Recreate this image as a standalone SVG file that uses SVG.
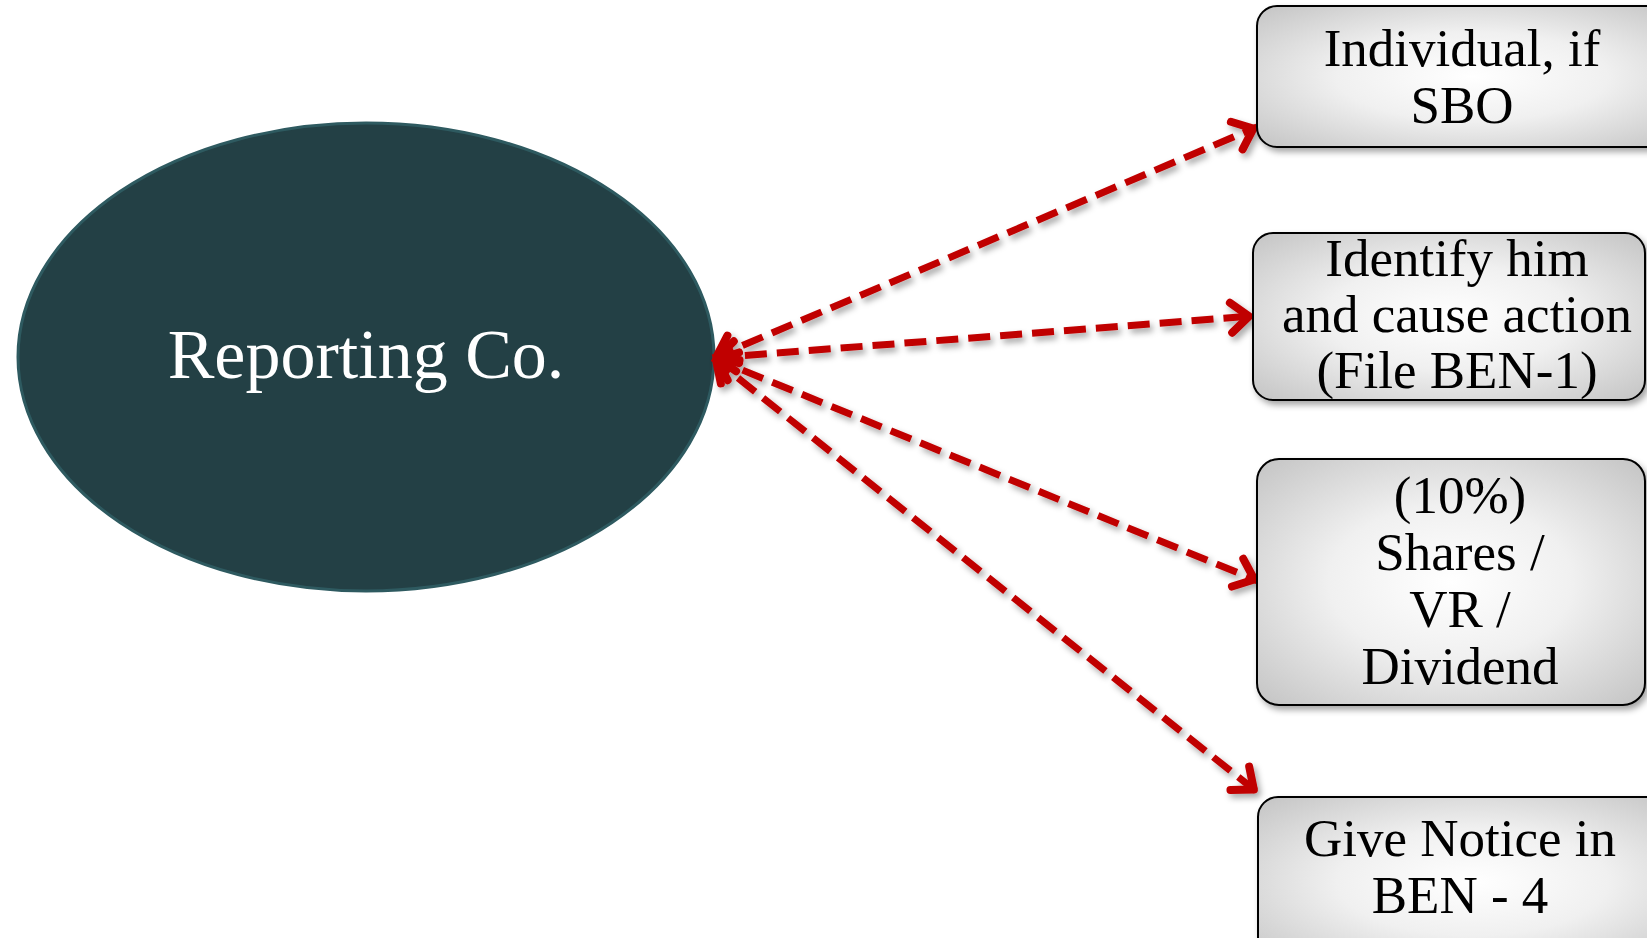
<svg xmlns="http://www.w3.org/2000/svg" width="1647" height="938" viewBox="0 0 1647 938">
  <defs>
    <style>
      .box { fill: url(#boxFill); stroke: #000; stroke-width: 2; filter: url(#shadow); }
      .label { font-family: "Liberation Serif", "Times New Roman", serif; font-size: 53px; fill: #000; text-anchor: middle; }
      .hub { font-family: "Liberation Serif", "Times New Roman", serif; font-size: 70px; fill: #fff; text-anchor: middle; }
      .link { fill: none; stroke: #c00000; stroke-width: 7; stroke-dasharray: 22 10; marker-start: url(#chevron); marker-end: url(#chevron); }
    </style>
    <radialGradient id="boxFill" cx="0.5" cy="0.5" r="0.7">
      <stop offset="0" stop-color="#ffffff"/>
      <stop offset="0.45" stop-color="#f0f0f0"/>
      <stop offset="1" stop-color="#c4c4c4"/>
    </radialGradient>
    <filter id="shadow" x="-10%" y="-10%" width="130%" height="130%">
      <feGaussianBlur in="SourceAlpha" stdDeviation="3"/>
      <feOffset dx="3" dy="4" result="b"/>
      <feFlood flood-color="#000" flood-opacity="0.35"/>
      <feComposite in2="b" operator="in"/>
      <feMerge>
        <feMergeNode/>
        <feMergeNode in="SourceGraphic"/>
      </feMerge>
    </filter>
    <marker id="chevron" markerUnits="userSpaceOnUse" viewBox="-34 -24 44 48" refX="0" refY="0" markerWidth="44" markerHeight="48" orient="auto-start-reverse">
      <path d="M-22,-15 L-4,0 L-22,15" fill="none" stroke="#c00000" stroke-width="8" stroke-linecap="round" stroke-linejoin="round"/>
    </marker>
  </defs>

  <!-- central entity -->
  <g id="reporting-co">
    <ellipse cx="366" cy="357" rx="348" ry="234" fill="#234045" stroke="#2e5a60" stroke-width="3"/>
    <text class="hub" x="366" y="378">Reporting Co.</text>
  </g>

  <!-- dashed connectors -->
  <g id="connectors" filter="url(#shadow)">
    <line class="link" x1="713" y1="358" x2="1257" y2="127"/>
    <line class="link" x1="713" y1="358" x2="1253" y2="316"/>
    <line class="link" x1="713" y1="358" x2="1258" y2="581"/>
    <line class="link" x1="713" y1="358" x2="1257" y2="792"/>
  </g>

  <g id="box-individual">
    <rect class="box" x="1257" y="6" width="430" height="141" rx="20"/>
    <text class="label" x="1462" y="66">Individual, if</text>
    <text class="label" x="1462" y="123">SBO</text>
  </g>

  <g id="box-identify">
    <rect class="box" x="1253" y="233" width="392" height="167" rx="20"/>
    <text class="label" x="1457" y="276">Identify him</text>
    <text class="label" x="1457" y="332">and cause action</text>
    <text class="label" x="1457" y="388">(File BEN-1)</text>
  </g>

  <g id="box-shares">
    <rect class="box" x="1257" y="459" width="388" height="246" rx="22"/>
    <text class="label" x="1460" y="513">(10%)</text>
    <text class="label" x="1460" y="570">Shares /</text>
    <text class="label" x="1460" y="627">VR /</text>
    <text class="label" x="1460" y="684">Dividend</text>
  </g>

  <g id="box-notice">
    <rect class="box" x="1258" y="797" width="430" height="170" rx="20"/>
    <text class="label" x="1460" y="856">Give Notice in</text>
    <text class="label" x="1460" y="913">BEN - 4</text>
  </g>
</svg>
